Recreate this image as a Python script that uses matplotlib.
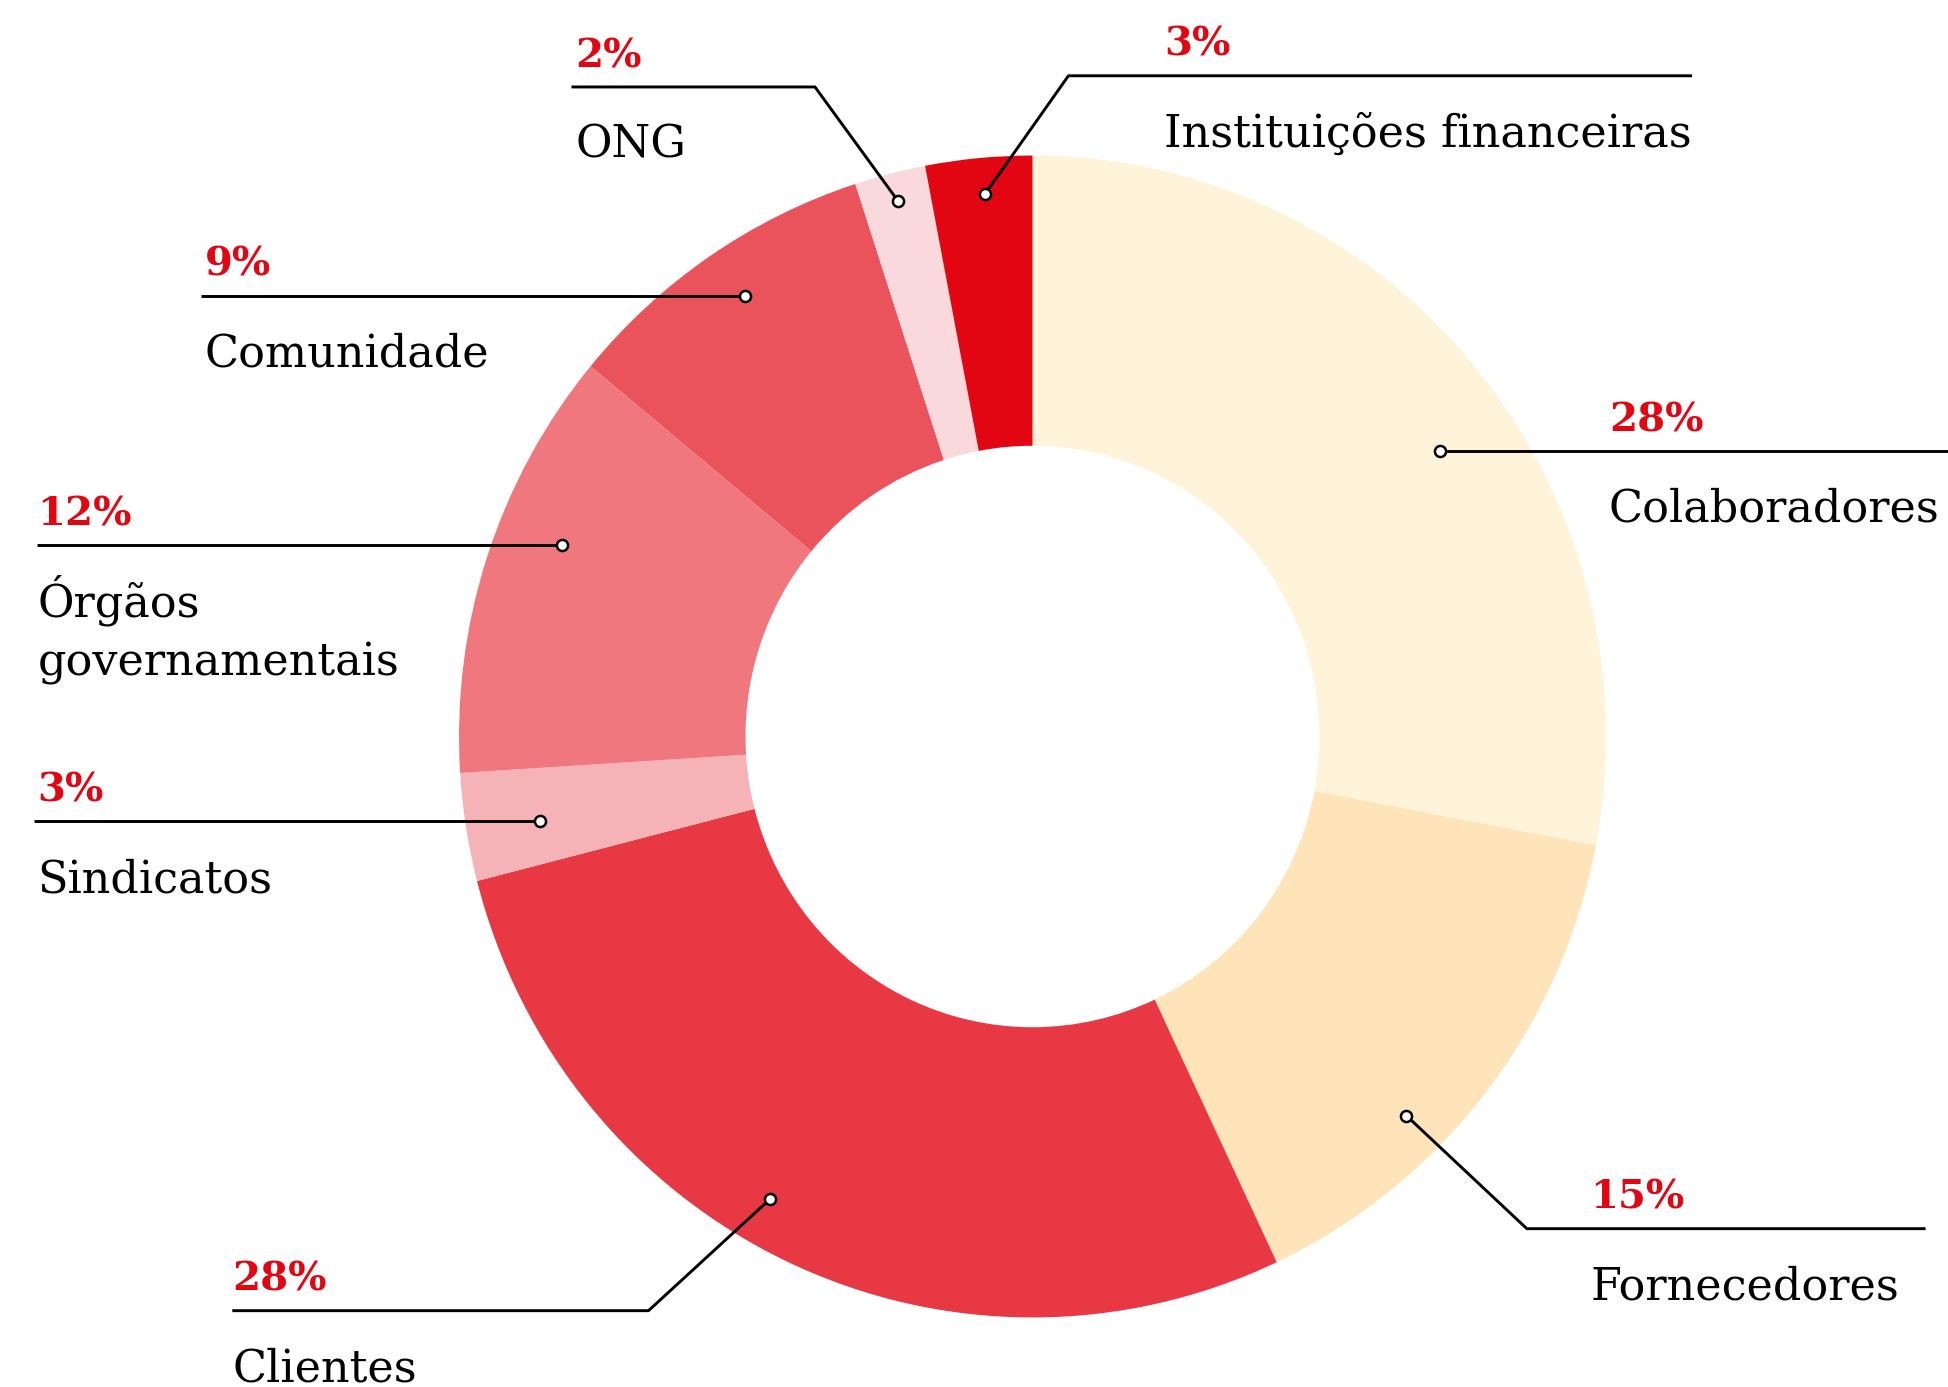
import matplotlib
matplotlib.use("Agg")
import matplotlib.pyplot as plt
from matplotlib.transforms import Affine2D

# ---- data ----
categories = ["Colaboradores", "Fornecedores", "Clientes", "Sindicatos",
              "Órgãos\ngovernamentais", "Comunidade", "ONG", "Instituições financeiras"]
values = [28, 15, 28, 3, 12, 9, 2, 3]
pct_labels = ["28%", "15%", "28%", "3%", "12%", "9%", "2%", "3%"]
colors = ["#FFF3D9", "#FFE4BA", "#E73843", "#F5B3B7", "#EF777D", "#EB535C", "#F9D9DB", "#E20613"]

W, H = 1948, 1387
S = W / 1568.0

def P(x, y):
    return (x * S, H - y * S)

fig = plt.figure(figsize=(W / 100, H / 100), dpi=100)
ax = fig.add_axes([0, 0, 1, 1])

cx, cy = 1032.5, H - 736.5
R = 573.5
r_in = 287.0
k = 1.013
wedges, _ = ax.pie(values, colors=colors, startangle=90, counterclock=False,
                   center=(cx, cy), radius=R,
                   wedgeprops=dict(width=R - r_in, linewidth=0), frame=True)
stretch = Affine2D().translate(-cx, -cy).scale(1, k).translate(cx, cy)
for w in wedges:
    w.set_transform(stretch + ax.transData)
ax.set_xlim(0, W)
ax.set_ylim(0, H)
ax.set_aspect("equal")
ax.axis("off")

# leader layout (shrunk-image coords): dot, (optional elbow), line end, text x
leaders = [
    dict(pts=[(1159, 363), (1568, 363)], tx=1295),
    dict(pts=[(1132, 898), (1229, 989), (1550, 989)], tx=1280),
    dict(pts=[(620, 965), (522, 1055), (187, 1055)], tx=187),
    dict(pts=[(435, 661), (27, 661)], tx=30),
    dict(pts=[(452, 439), (30, 439)], tx=30),
    dict(pts=[(600, 238), (162, 238)], tx=165),
    dict(pts=[(723, 162), (656, 70), (460, 70)], tx=463),
    dict(pts=[(793, 156), (860, 61), (1362, 61)], tx=937),
]

serif = ["DejaVu Serif"]
lab_fs = 32
pct_fs = 29
for cat, pl, ld in zip(categories, pct_labels, leaders):
    pts = [P(*p) for p in ld["pts"]]
    xs = [p[0] for p in pts]
    ys = [p[1] for p in pts]
    ax.plot(xs, ys, color="black", lw=2.1, solid_capstyle="butt", zorder=3)
    ax.plot(xs[0], ys[0], "o", ms=8, mfc="white", mec="black", mew=1.8, zorder=4)
    ly = ys[-1]
    tx = ld["tx"] * S
    ax.text(tx, ly + 16 * S, pl, color="#E20613", fontsize=pct_fs, fontweight="bold",
            family=serif, ha="left", va="baseline")
    for i, line in enumerate(cat.split("\n")):
        ax.text(tx, ly - (57 + 48 * i) * S, line, color="black", fontsize=lab_fs,
                family=serif, ha="left", va="baseline")

fig.savefig("out.png", dpi=100, facecolor="white")
